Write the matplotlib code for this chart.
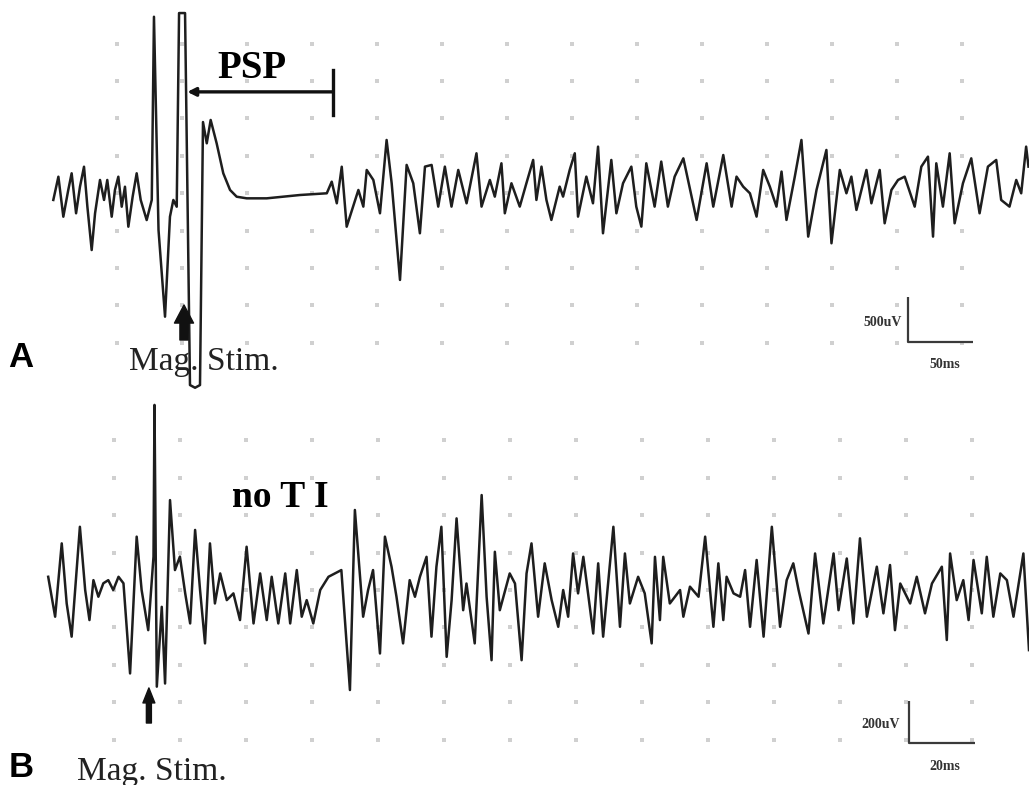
import matplotlib
matplotlib.use("Agg")
import matplotlib.pyplot as plt
import numpy as np

# ---- data (time in ms, amplitude in uV) ----
# A: response to magnetic stimulation, with PSP silent period
a_t = [1.0, 4.9, 8.7, 12.5, 15.1, 18.5, 21.5, 24.6, 27.2, 30.5, 33.1, 36.9, 40.0, 42.5,
       45.9, 48.4, 51.0, 53.6, 56.1, 58.7, 62.0, 65.1, 68.2, 72.8, 76.7, 78.4, 81.9, 86.9,
       90.7, 93.3, 95.9, 97.7, 102.3, 106.1, 110.0, 113.8, 116.1, 119.0, 122.0, 126.6,
       131.7, 136.9, 142.0, 149.7, 165.1, 190.7, 211.3, 215.1, 219.0, 222.8, 226.6,
       235.6, 239.4, 242.0, 247.1, 252.2, 257.3, 261.2, 267.6, 272.7, 277.8, 282.9, 286.8,
       291.9, 297.0, 302.1, 307.2, 312.4, 318.8, 326.4, 330.3, 336.7, 340.5, 345.6, 348.2,
       353.3, 359.7, 364.8, 370.0, 372.5, 376.4, 380.2, 384.0, 390.4, 393.0, 398.1, 402.0,
       404.5, 410.9, 416.0, 419.9, 423.7, 430.1, 434.0, 439.1, 445.5, 449.3, 453.2, 457.0,
       463.4, 468.5, 473.6, 478.8, 485.5, 495.7, 503.4, 508.5, 516.2, 522.6, 526.4, 531.5,
       536.7, 541.8, 546.9, 552.0, 557.1, 561.0, 564.8, 571.2, 576.3, 581.5, 587.9, 595.5,
       599.4, 605.8, 610.9, 614.7, 618.6, 626.3, 630.1, 636.5, 640.3, 645.5, 650.6, 655.7,
       663.4, 668.5, 673.6, 677.5, 680.0, 685.1, 690.3, 694.1, 700.5, 706.9, 713.3, 719.7,
       726.1, 729.9, 736.3, 741.5, 745.3, 749.1, 750.9]
a_v = [-55, 203, -241, 56, 241, -203, 92, 314, -130, -611, -203, 167, -55, 167,
       -241, 56, 203, -130, 92, -352, -19, 241, -55, -278, -55, 1979, -389, -1351,
       -241, -55, -130, 2020, 2020, -2110, -2140, -2110, 810, 574, 833, 574,
       241, 56, -19, -37, -37, 0, 19, 148, -92, 314, -352,
       56, -129, 278, 167, -203, 611, 130, -943, 334, 130, -425, 315,
       334, -129, 315, -129, 278, -92, 463, -129, 167, -18, 352, -203,
       130, -129, 130, 389, -55, 315, -55, -277, 93, -18, 278, 463,
       -240, 204, -92, 537, -425, 389, -203, 130, 315, -129, -351, 352,
       -129, 371, -129, 204, 407, -277, 352, -129, 444, -129, 204, 93,
       19, -240, 278, 93, -129, 260, -277, 204, 611, -462, 56, 500,
       -536, 278, 19, 204, -166, 278, -92, 278, -314, 56, 167, 204,
       -129, 315, 426, -462, 352, -129, 463, -314, 130, 407, -203, 315,
       389, -55, -129, 167, 19, 537, 315]
stim_a = 101.5            # ms, arrow "Mag. Stim."
psp_window = [104, 216]   # ms

# B: same stimulation, no T I
b_t = [0.1, 2.2, 4.2, 5.7, 7.2, 9.7, 11.3, 12.6, 13.8, 15.3, 16.8, 18.3, 19.8, 21.4,
       22.9, 24.9, 26.9, 28.4, 30.4, 32.0, 32.3, 33.0, 34.5, 35.5, 37.0, 38.5, 40.0, 41.6,
       43.1, 44.6, 46.1, 47.6, 49.1, 50.6, 52.2, 54.2, 56.2, 58.2, 60.2, 62.3, 64.3, 66.3,
       67.8, 69.8, 71.9, 73.4, 75.4, 76.9, 78.4, 80.4, 82.5, 85.0, 88.9, 91.5, 93.0, 95.5,
       97.0, 98.5, 100.6, 102.1, 104.1, 105.6, 107.6, 109.6, 111.2, 112.7, 114.7, 116.2,
       117.7, 119.2, 120.8, 122.3, 123.8, 125.8, 126.8, 129.3, 131.4, 132.9, 134.4, 135.4,
       136.9, 139.9, 141.5, 143.5, 145.0, 146.5, 148.5, 150.5, 152.6, 154.6, 156.1, 157.6,
       159.1, 160.6, 162.2, 165.2, 166.7, 168.2, 171.3, 173.3, 174.8, 176.3, 178.8, 180.8,
       182.9, 183.9, 185.4, 186.4, 188.4, 191.5, 192.5, 194.5, 197.1, 199.1, 201.6, 203.1,
       204.6, 205.6, 207.7, 209.7, 211.2, 212.7, 214.7, 216.8, 219.3, 221.8, 223.8, 225.8,
       227.4, 230.4, 232.4, 234.9, 238.0, 239.5, 242.0, 244.0, 246.0, 248.1, 251.1, 253.1,
       255.1, 256.6, 258.2, 261.2, 263.2, 265.7, 267.8, 270.8, 272.3, 273.3, 275.3, 277.3,
       278.9, 280.4, 282.9, 284.4, 286.4, 288.5, 290.5, 292.5, 295.5, 297.2]
b_v = [63, -127, 222, -64, -222, 301, 0, -143, 47, -32, 32, 47, 0, 63,
       32, -397, 254, 0, -191, 159, 881, -460, -80, -445, 428, 95, 159, -16,
       -159, 286, 0, -254, 222, -64, 79, -48, -16, -143, 206, -159, 79, -143,
       63, -159, 79, -159, 95, -127, -48, -159, 0, 63, 95, -476, 381, -127,
       0, 95, -302, 254, 111, -32, -254, 47, -32, 63, 158, -222,
       111, 301, -318, -48, 341, -96, 31, -254, 452, -32, -334, 182,
       -96, 79, 31, -334, 79, 222, -127, 127, -48, -175, 0, -127,
       174, -16, 158, -207, 127, -222, 301, -175, 174, -64, 63, -16,
       -254, 158, -143, 158, -64, 0, -127, 16, -32, 254, -175, 127,
       -143, 63, -16, -32, 95, -175, 143, -222, 301, -175, 47, 127,
       0, -207, 174, -159, 174, -96, 150, -159, 246, -127, 111, -111,
       119, -191, 31, -64, 63, -111, 31, 111, -238, 174, -48, 47,
       -143, 143, -111, 158, -127, 79, 47, -127, 174, -286]
stim_b = 30.6  # ms

W, H = 1029, 785
fig = plt.figure(figsize=(W / 100, H / 100), dpi=100)
fig.patch.set_facecolor("white")

axA = fig.add_axes([0, 395 / H, 1, 390 / H])
axB = fig.add_axes([0, 0, 1, 395 / H])
axA.set_xlim(-40, 751.3)
axA.set_ylim(-2165, 2165)
axB.set_xlim(-14.5, 297.2)
axB.set_ylim(-928, 952)
for ax in (axA, axB):
    ax.axis("off")

trace_kw = dict(color="#1e1e1e", lw=1.8, solid_joinstyle="round", zorder=3)
dot_kw = dict(ls="none", marker="s", ms=2.2, mew=0, color="#d0d0d0", zorder=1)

# oscilloscope grid dots
gx, gy = np.meshgrid(np.arange(50, 701, 50), 20 + 415 * np.arange(-4, 5))
axA.plot(gx.ravel(), gy.ravel(), **dot_kw)
gx, gy = np.meshgrid(np.arange(20, 281, 20), 178 * np.arange(-4, 5))
axB.plot(gx.ravel(), gy.ravel(), **dot_kw)

axA.plot(a_t, a_v, **trace_kw)
axB.plot(b_t, b_v, **trace_kw)

# PSP bracket
axA.annotate("", xy=(psp_window[0], 1145), xytext=(psp_window[1], 1145),
             arrowprops=dict(arrowstyle="-|>", lw=2.4, color="#111111",
                             mutation_scale=12, shrinkA=0, shrinkB=0))
axA.plot([psp_window[1]] * 2, [890, 1390], color="#111111", lw=2.4)

# stimulus arrows
axA.annotate("", xy=(stim_a, -1221), xytext=(stim_a, -1610),
             arrowprops=dict(arrowstyle="simple,head_length=0.93,head_width=0.98,tail_width=0.42",
                             color="#111111", mutation_scale=14, shrinkA=0, shrinkB=0))
axB.annotate("", xy=(stim_b, -466), xytext=(stim_b, -633),
             arrowprops=dict(arrowstyle="simple,head_length=1.08,head_width=0.86,tail_width=0.36",
                             color="#111111", mutation_scale=10, shrinkA=0, shrinkB=0))

# scale bars
bar_kw = dict(color="#3a3a3a", lw=1.6, solid_capstyle="butt")
axA.plot([658, 658, 708], [-1132, -1632, -1632], **bar_kw)
axB.plot([260.9, 260.9, 280.9], [-528, -728, -728], **bar_kw)


def fx(x):
    return x / W


def fy(y):
    return 1 - y / H


serif = "Liberation Serif"
fig.text(fx(252), fy(78), "PSP", ha="center", va="baseline", fontsize=28,
         fontweight="bold", family=serif)
fig.text(fx(280), fy(507), "no T I", ha="center", va="baseline", fontsize=27,
         fontweight="bold", family=serif)
fig.text(fx(204), fy(370), "Mag. Stim.", ha="center", va="baseline", fontsize=24,
         family=serif, color="#222222")
fig.text(fx(152), fy(780), "Mag. Stim.", ha="center", va="baseline", fontsize=24,
         family=serif, color="#222222")
fig.text(fx(8), fy(367), "A", ha="left", va="baseline", fontsize=25,
         fontweight="bold", family="Liberation Sans")
fig.text(fx(9), fy(777), "B", ha="left", va="baseline", fontsize=25,
         fontweight="bold", family="Liberation Sans")

small = dict(fontsize=10, family=serif, fontweight="bold", color="#333333")
fig.text(fx(902), fy(322), "500uV", ha="right", va="center", **small)
fig.text(fx(945), fy(364), "50ms", ha="center", va="center", **small)
fig.text(fx(900), fy(725), "200uV", ha="right", va="center", **small)
fig.text(fx(945), fy(766), "20ms", ha="center", va="center", **small)

fig.savefig("out.png", dpi=100, facecolor="white")
